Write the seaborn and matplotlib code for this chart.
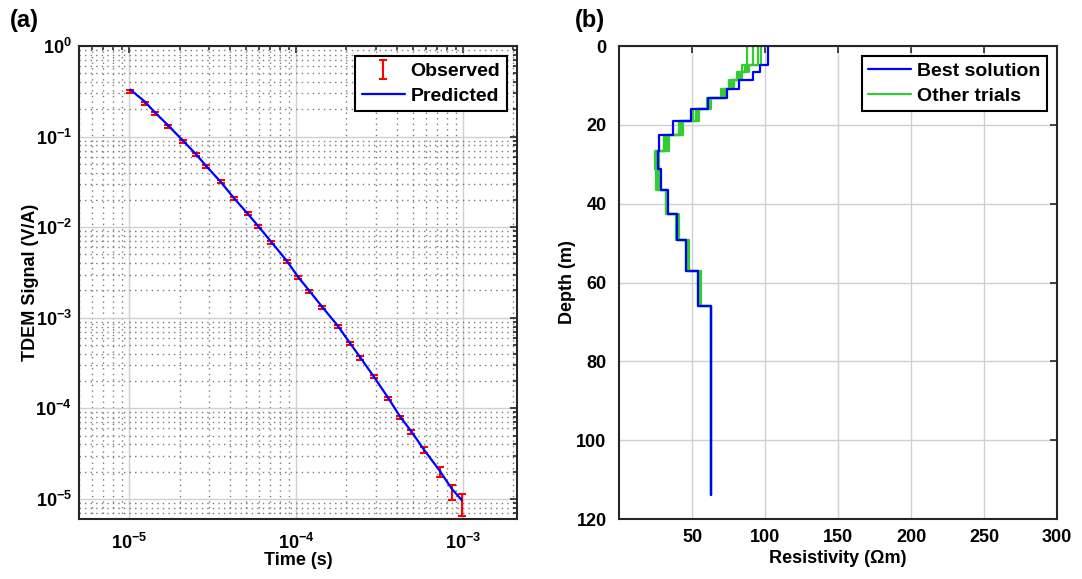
import numpy as np
import matplotlib
matplotlib.use("Agg")
import matplotlib.pyplot as plt
import seaborn as sns
from matplotlib.ticker import FuncFormatter, FixedLocator, LogLocator, NullFormatter
from matplotlib.lines import Line2D

# --- panel (a): TDEM decay curve ---
time_s = [1.016e-5, 1.24e-5, 1.42e-5, 1.71e-5, 2.10e-5, 2.51e-5, 2.90e-5, 3.52e-5,
          4.26e-5, 5.12e-5, 5.94e-5, 7.08e-5, 8.78e-5, 1.03e-4, 1.20e-4, 1.43e-4,
          1.78e-4, 2.09e-4, 2.42e-4, 2.91e-4, 3.55e-4, 4.21e-4, 4.88e-4, 5.82e-4,
          7.23e-4, 8.53e-4, 9.80e-4]
observed = [0.312, 0.232, 0.180, 0.130, 0.089, 0.0634, 0.0471, 0.0319,
            0.0207, 0.0141, 0.0102, 0.00685, 0.00422, 0.00279, 0.00197, 0.00131,
            8.0e-4, 5.2e-4, 3.6e-4, 2.24e-4, 1.29e-4, 7.9e-5, 5.5e-5, 3.48e-5,
            2.0e-5, 1.2e-5, 8.9e-6]
# relative error of each gate, percent
rel_err_pct = [4, 4, 4, 4, 4, 4, 4, 4, 4, 4, 4, 4, 4, 4, 4, 4,
               4, 4, 4, 4, 4, 4, 5, 7, 12, 19, 27]
predicted = [0.33, 0.243, 0.186, 0.133, 0.090, 0.0640, 0.0470, 0.0318,
             0.0207, 0.0141, 0.0102, 0.0069, 0.00425, 0.00280, 0.00198, 0.00132,
             8.1e-4, 5.3e-4, 3.65e-4, 2.25e-4, 1.31e-4, 8.0e-5, 5.6e-5, 3.5e-5,
             2.05e-5, 1.3e-5, 9.7e-6]

# --- panel (b): layered resistivity models ---
layer_top = [0, 4.75, 6.7, 8.6, 10.8, 13.3, 16.1, 19.0, 22.5, 26.7, 31.3,
             36.6, 42.5, 49.2, 57.2, 65.9]
model_bottom = 114
best_rho = [101.8, 96.8, 91.5, 82.3, 73.7, 60.8, 49.3, 36.9, 27.6, 26.5, 29.0,
            33.4, 39.6, 46.1, 53.9, 63.1]
trial_rho = [
    [88.0, 84.5, 80.6, 75.0, 69.6, 60.0, 51.0, 40.8, 31.0, 24.6, 25.0, 32.0, 39.0, 46.0, 54.0, 63.0],
    [91.5, 86.0, 82.0, 76.5, 71.0, 61.0, 52.5, 42.0, 32.0, 25.5, 26.0, 32.5, 40.0, 47.0, 55.0, 63.2],
    [95.0, 87.5, 83.5, 78.0, 72.0, 62.0, 53.5, 43.0, 33.0, 26.5, 27.0, 33.0, 40.5, 47.5, 55.5, 63.0],
    [97.0, 89.0, 84.5, 79.0, 73.0, 62.7, 54.6, 44.0, 34.0, 27.6, 28.0, 33.0, 41.0, 48.0, 56.0, 63.1],
]

sns.set_theme(style="white")
plt.rcParams.update({
    "font.family": ["Liberation Sans", "DejaVu Sans"],
    "font.weight": "bold",
    "axes.labelweight": "bold",
    "axes.labelcolor": "black",
    "text.color": "black",
    "font.size": 13,
    "mathtext.fontset": "custom",
    "mathtext.rm": "Liberation Sans:bold",
    "mathtext.bf": "Liberation Sans:bold",
    "mathtext.it": "Liberation Sans:bold:italic",
})

EDGE = "#262626"


def style_axes(ax, xpad, ypad):
    for s in ax.spines.values():
        s.set_color(EDGE)
        s.set_linewidth(1.5)
    ax.tick_params(which="both", direction="in", top=True, right=True,
                   color=EDGE, labelcolor="black", labelsize=13, width=1.2)
    ax.tick_params(which="major", length=5)
    ax.tick_params(which="minor", length=3)
    ax.tick_params(axis="x", which="major", pad=xpad)
    ax.tick_params(axis="y", which="major", pad=ypad)
    for lab in ax.get_xticklabels() + ax.get_yticklabels():
        lab.set_fontweight("bold")


def step_path(tops, bottom, values):
    xs, ys = [], []
    edges = list(tops[1:]) + [bottom]
    for v, t, b in zip(values, tops, edges):
        xs += [v, v]
        ys += [t, b]
    return xs, ys


fig = plt.figure(figsize=(10.82, 5.79), dpi=100)
ax1 = fig.add_axes([0.0730, 0.1036, 0.4048, 0.8169])
ax2 = fig.add_axes([0.5721, 0.1036, 0.4048, 0.8169])

# (a)
obs = np.array(observed)
err = obs * np.array(rel_err_pct) / 100.0
eb = ax1.errorbar(time_s, obs, yerr=err, fmt="none", ecolor="red",
                  elinewidth=1.5, capsize=3, capthick=1.5, zorder=3)
sns.lineplot(x=time_s, y=predicted, color="blue", linewidth=1.6,
             estimator=None, ax=ax1, zorder=4)
ax1.set_xscale("log")
ax1.set_yscale("log")
ax1.set_xlim(5e-6, 2.1e-3)
ax1.set_ylim(6e-6, 1)
ax1.xaxis.set_major_locator(FixedLocator([1e-5, 1e-4, 1e-3]))
ax1.yaxis.set_major_locator(FixedLocator([1e-5, 1e-4, 1e-3, 1e-2, 1e-1, 1]))
for axis in (ax1.xaxis, ax1.yaxis):
    axis.set_minor_locator(LogLocator(base=10, subs=np.arange(2, 10), numticks=20))
    axis.set_minor_formatter(NullFormatter())
    axis.set_major_formatter(FuncFormatter(
        lambda v, p: r"$\mathbf{10^{%d}}$" % int(round(np.log10(v)))))
ax1.grid(which="major", color="#d0d0d0", linestyle="-", linewidth=1.0)
ax1.grid(which="minor", color="#7a7a7a", linestyle=(0, (1, 3)), linewidth=1.0)
ax1.set_axisbelow(True)
ax1.set_xlabel("Time (s)", fontsize=13, fontweight="bold")
ax1.set_ylabel("TDEM Signal (V/A)", fontsize=13, fontweight="bold")
ax1.xaxis.set_label_coords(0.5, -0.069)
ax1.yaxis.set_label_coords(-0.091, 0.5)
style_axes(ax1, xpad=10, ypad=5)
pred_handle = Line2D([], [], color="blue", linewidth=1.6)
leg1 = ax1.legend([eb, pred_handle], ["Observed", "Predicted"], loc="upper right",
                  fancybox=False, framealpha=1, edgecolor="black",
                  prop={"weight": "bold", "size": 14}, handlelength=2.2,
                  borderpad=0.35, labelspacing=0.35, handletextpad=0.3)
leg1.get_frame().set_linewidth(1.5)

# (b)
for vals in trial_rho:
    xs, ys = step_path(layer_top, model_bottom, vals)
    ax2.plot(xs, ys, color="#33cc33", linewidth=1.6, zorder=2)
xs, ys = step_path(layer_top, model_bottom, best_rho)
ax2.plot(xs, ys, color="blue", linewidth=1.6, zorder=3)
ax2.set_xlim(0, 300)
ax2.set_ylim(120, 0)
ax2.set_xticks([50, 100, 150, 200, 250, 300])
ax2.set_yticks([0, 20, 40, 60, 80, 100, 120])
ax2.grid(which="major", color="#d0d0d0", linestyle="-", linewidth=1.0)
ax2.set_axisbelow(True)
ax2.set_xlabel("Resistivity (\u03a9m)", fontsize=13, fontweight="bold")
ax2.set_ylabel("Depth (m)", fontsize=13, fontweight="bold")
ax2.xaxis.set_label_coords(0.5, -0.066)
ax2.yaxis.set_label_coords(-0.098, 0.5)
style_axes(ax2, xpad=7, ypad=9)
h_best = Line2D([], [], color="blue", linewidth=1.6)
h_trial = Line2D([], [], color="#33cc33", linewidth=1.6)
leg2 = ax2.legend([h_best, h_trial], ["Best solution", "Other trials"], loc="upper right",
                  fancybox=False, framealpha=1, edgecolor="black",
                  prop={"weight": "bold", "size": 14}, handlelength=2.2,
                  borderpad=0.35, labelspacing=0.35, handletextpad=0.3)
leg2.get_frame().set_linewidth(1.5)

fig.text(0.009, 0.965, "(a)", fontsize=17, fontweight="bold", va="center")
fig.text(0.531, 0.965, "(b)", fontsize=17, fontweight="bold", va="center")

fig.savefig("out.png", dpi=100)
